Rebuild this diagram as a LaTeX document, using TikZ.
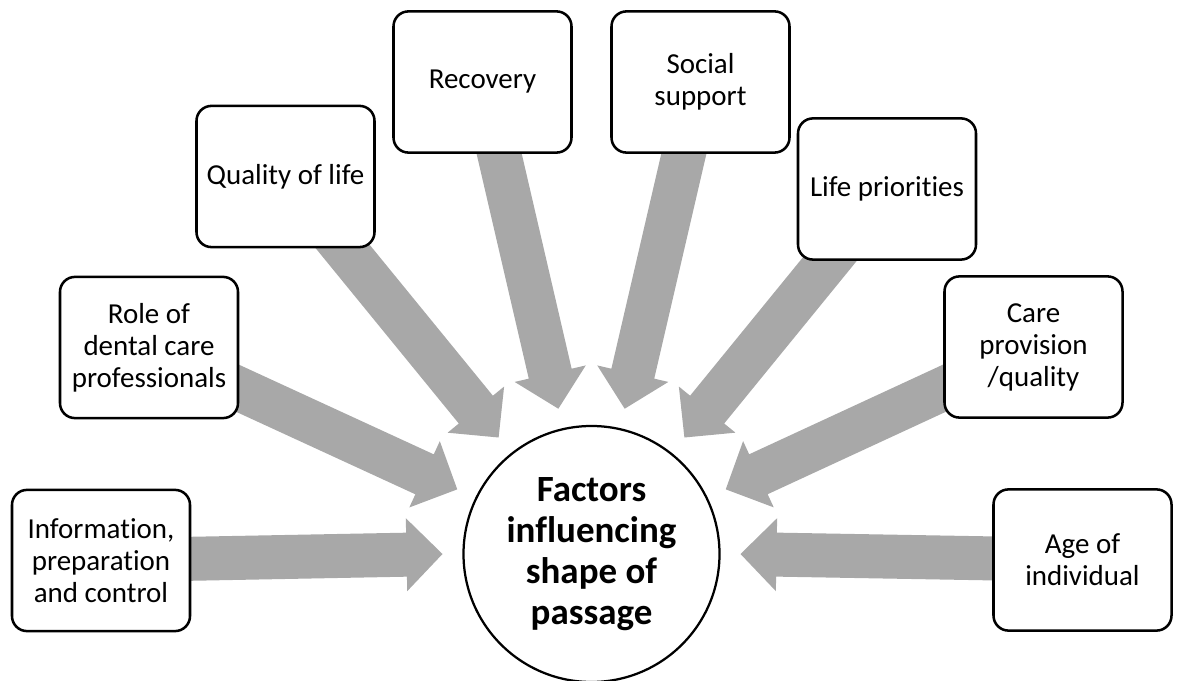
\documentclass[tikz,border=0pt]{standalone}
\usepackage{fontspec}
\setmainfont{Carlito}[RawFeature={-liga;-clig;-dlig;-calt}]
\usetikzlibrary{calc,backgrounds}

\definecolor{arrowgray}{HTML}{A8A8A8}
\tikzset{
  factor/.style={draw, line width=1.8pt, rounded corners=0.375cm, fill=white,
    minimum width=4.45cm, minimum height=3.53cm, align=center,
    font=\fontsize{20.6}{22.8}\selectfont},
  hub/.style={draw, circle, line width=1.6pt, fill=white, minimum size=6.4cm,
    inner sep=0pt, align=center, font=\bfseries\fontsize{26.3}{29.2}\selectfont},
  push/.style={fill=arrowgray}
}
% block arrow from #1 to the tip #2
\newcommand{\pusharrow}[2]{%
  \coordinate (hb) at ($(#2)!0.9cm!(#1)$);
  \fill[push] ($(#1)!0.55cm!90:(#2)$) -- ($(hb)!0.55cm!-90:(#1)$)
    -- ($(hb)!0.9125cm!-90:(#1)$) -- (#2) -- ($(hb)!0.9125cm!90:(#1)$)
    -- ($(hb)!0.55cm!90:(#1)$) -- ($(#1)!0.55cm!-90:(#2)$) -- cycle;}

\begin{document}
\begin{tikzpicture}
\useasboundingbox (0,0) rectangle (29.475,17);
% centre
\node[hub] (hub) at (14.7875,3.15) {Factors\\influencing\\shape of\\passage};
% factors
\node[factor] (info) at (2.525,2.9875) {Information,\\preparation\\and control};
\node[factor] (role) at (3.725,8.3125) {Role of\\dental care\\professionals};
\node[factor] (quality) at (7.1375,12.5875) {Quality of life};
\node[factor] (recovery) at (12.0625,14.95) {Recovery};
\node[factor] (social) at (17.5125,14.95) {Social\\support};
\node[factor] (life) at (22.175,12.275) {Life priorities};
\node[factor] (care) at (25.8375,8.325) {Care\\provision\\/quality};
\node[factor] (age) at (27.0625,3.0) {Age of\\individual};
% arrow tips round the centre
\coordinate (t1) at ($(hub)+(180:3.725)$);
\coordinate (t2) at ($(hub)+(154.29:3.725)$);
\coordinate (t3) at ($(hub)+(128.57:3.725)$);
\coordinate (t4) at ($(hub)+(102.86:3.725)$);
\coordinate (t5) at ($(hub)+(77.14:3.725)$);
\coordinate (t6) at ($(hub)+(51.43:3.725)$);
\coordinate (t7) at ($(hub)+(25.71:3.725)$);
\coordinate (t8) at ($(hub)+(0:3.725)$);
\begin{scope}[on background layer]
\pusharrow{info}{t1}
\pusharrow{role}{t2}
\pusharrow{quality}{t3}
\pusharrow{recovery}{t4}
\pusharrow{social}{t5}
\pusharrow{life}{t6}
\pusharrow{care}{t7}
\pusharrow{age}{t8}
\end{scope}
\end{tikzpicture}
\end{document}
